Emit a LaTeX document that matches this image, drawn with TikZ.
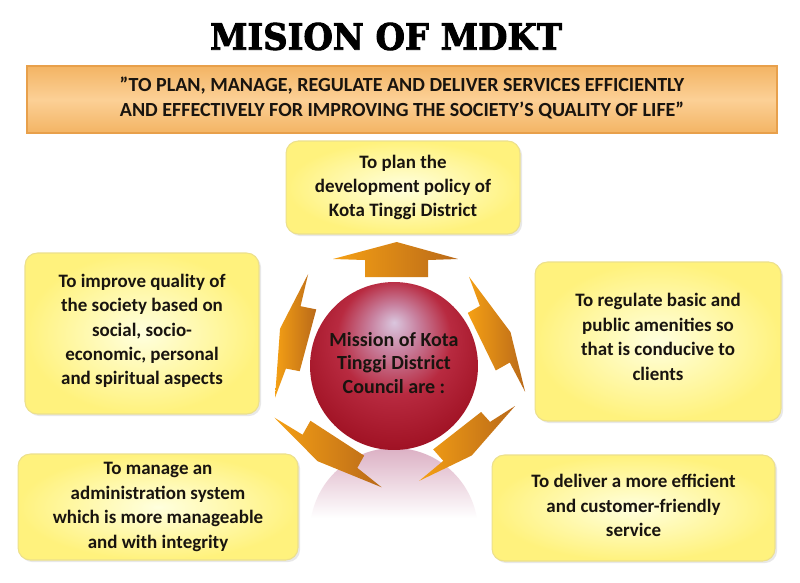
\documentclass[tikz,border=0pt]{standalone}
\usepackage{fontspec}
\usepackage{graphicx}
\setmainfont{Carlito}
\newfontfamily\titlefont{DejaVu Serif}[BoldFeatures={FakeBold=2.5}]
\usetikzlibrary{shadows}
\definecolor{textc}{RGB}{25,20,15}
\definecolor{boxin}{RGB}{255,255,222}
\definecolor{boxout}{RGB}{255,242,125}
\definecolor{boxdraw}{RGB}{236,224,140}
\definecolor{bannerA}{RGB}{243,180,100}
\definecolor{bannerB}{RGB}{252,208,150}
\definecolor{bannerdraw}{RGB}{232,160,75}
\definecolor{arrowA}{RGB}{245,160,20}
\definecolor{arrowB}{RGB}{185,105,25}
\definecolor{cA}{RGB}{218,198,222}
\definecolor{cB}{RGB}{200,130,160}
\definecolor{cC}{RGB}{184,42,64}
\definecolor{cD}{RGB}{162,20,38}
\definecolor{cE}{RGB}{132,8,22}
\definecolor{reflc}{RGB}{220,176,196}
\pgfdeclareradialshading{redsphere}{\pgfqpoint{0bp}{13bp}}{color(0bp)=(cA); color(7bp)=(cB); color(17bp)=(cC); color(29bp)=(cD); color(38bp)=(cE); color(50bp)=(cE)}
\tikzset{
  box/.style={rectangle, rounded corners=7pt, draw=boxdraw, line width=0.6pt,
    inner color=boxin, outer color=boxout,
    drop shadow={opacity=0.18, shadow xshift=1.2pt, shadow yshift=-1.2pt},
    align=center, text=textc, font=\fontsize{10.8}{13.9}\selectfont\bfseries},
  bolt/.pic={\shade[left color=arrowA, right color=arrowB]
    (0,0) -- (31,3) -- (32,17) -- (96,17) -- (95,1) -- (128,0) -- (68,-13) -- cycle;}
}
\begin{document}
\begin{tikzpicture}[x=0.02cm,y=-0.02cm]
\useasboundingbox (0,0) rectangle (800,582);
\fill[white] (0,0) rectangle (800,582);

% title
\node[inner sep=0pt] (title) at (386,36.5) {\resizebox{7.04cm}{0.54cm}{\titlefont\bfseries MISION OF MDKT}};

% banner
\node[rectangle, draw=bannerdraw, line width=0.8pt, top color=bannerA, bottom color=bannerA, middle color=bannerB,
      minimum width=15cm, minimum height=1.34cm, align=center, text=textc, text depth=3pt,
      font=\fontsize{11.4}{14.2}\selectfont\bfseries] (banner) at (402,99.5)
  {”TO PLAN, MANAGE, REGULATE AND DELIVER SERVICES EFFICIENTLY\\
   AND EFFECTIVELY FOR IMPROVING THE SOCIETY’S QUALITY OF LIFE”};

% boxes
\node[box, minimum width=4.68cm, minimum height=1.86cm] (plan) at (403,187.5)
  {To plan the\\development policy of\\Kota Tinggi District};
\node[box, minimum width=4.68cm, minimum height=3.22cm, text depth=4.7pt] (improve) at (142,333.5)
  {To improve quality of\\the society based on\\social, socio-\\economic, personal\\and spiritual aspects};
\node[box, minimum width=4.92cm, minimum height=3.18cm, text depth=5.2pt] (regulate) at (658,341.5)
  {To regulate basic and\\public amenities so\\that is conducive to\\clients};
\node[box, minimum width=5.6cm, minimum height=2.12cm] (manage) at (158,507)
  {To manage an\\administration system\\which is more manageable\\and with integrity};
\node[box, minimum width=5.66cm, minimum height=2.12cm, text depth=3pt] (deliver) at (633.5,508)
  {To deliver a more efficient\\and customer-friendly\\service};

% reflection of circle
\begin{scope}
  \clip (394,532) circle[radius=84];
  \shade[top color=reflc, bottom color=white] (300,448) rectangle (490,518);
\end{scope}

% centre circle
\node[circle, minimum size=3.36cm, inner sep=0pt, shading=redsphere,
      align=center, text=textc, text depth=3.5pt, font=\fontsize{11.4}{13.4}\selectfont\bfseries] (centre) at (394,366)
  {Mission of Kota\\Tinggi District\\Council are :};

% top arrow
\shade[left color=arrowA, right color=arrowB]
  (396.7,242) -- (458,259) -- (428,260) -- (428,277) -- (365,277) -- (365,260) -- (333,259) -- cycle;

% bolt arrows
\pic[rotate=75] at (275,397.7) {bolt};
\pic[rotate=-64] at (469,276.7) {bolt};
\pic[rotate=147] at (381.7,487.3) {bolt};
\pic[rotate=218, scale=0.95] at (515,406) {bolt};
\end{tikzpicture}
\end{document}
